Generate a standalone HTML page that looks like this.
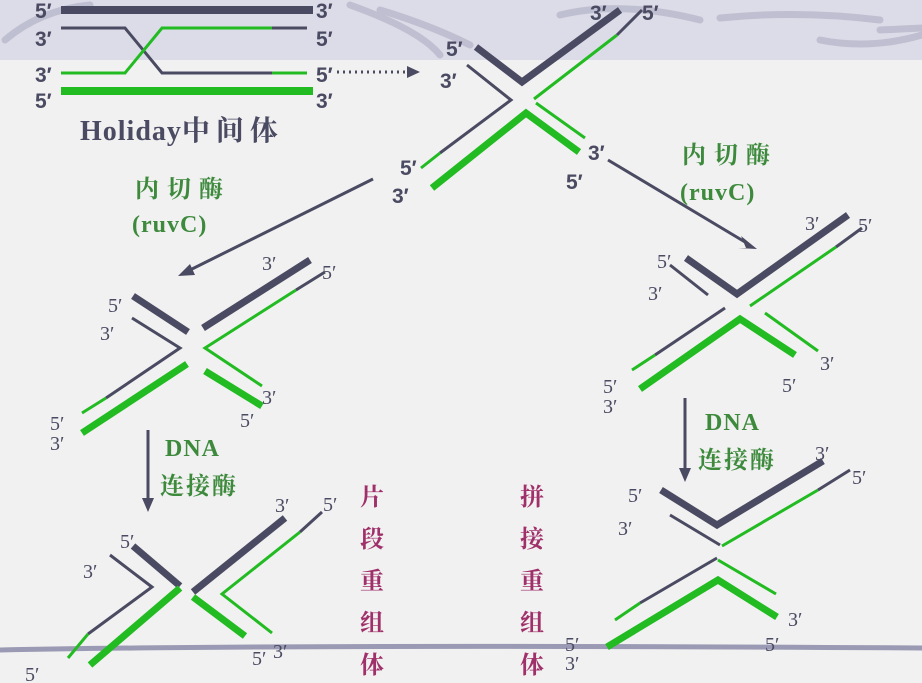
<!DOCTYPE html>
<html><head><meta charset="utf-8"><style>
html,body{margin:0;padding:0;width:922px;height:683px;overflow:hidden;background:#f1f1f1}
svg{display:block}
.l{font-family:"Liberation Sans",sans-serif;font-weight:bold;font-size:21px;fill:#4a4a62}
.s{font-family:"Liberation Serif",serif;font-size:20px;fill:#4a4a62}
.g{font-family:"Liberation Serif","Noto Serif CJK SC",serif;font-weight:bold;font-size:24px;fill:#3d8a3d}
.p{font-family:"Noto Serif CJK SC",serif;font-weight:bold;font-size:24px;fill:#a0306a}
</style></head><body>
<svg width="922" height="683" viewBox="0 0 922 683">
<rect x="0" y="0" width="922" height="60" fill="#dcdce8"/>
<g stroke="#b8b8cc" stroke-width="7" fill="none" stroke-linecap="round" opacity="0.8">
<path d="M5 40 Q40 10 90 5"/><path d="M350 5 Q420 30 440 55"/><path d="M380 10 Q430 25 470 45"/><path d="M560 15 Q620 0 700 20"/><path d="M720 18 Q800 10 880 20"/><path d="M820 40 Q870 50 922 35"/><path d="M880 30 L922 28"/>
</g>
<path d="M0 650 Q300 644 922 648" stroke="#9a9ab4" stroke-width="5" fill="none"/>
<g fill="none" stroke-linecap="butt">
<line x1="61" y1="10" x2="313" y2="10" stroke="#4a4a62" stroke-width="8"/>
<polyline points="61,28 125,28 162,73 272,73" stroke="#4a4a62" stroke-width="3"/>
<line x1="272" y1="73" x2="307" y2="73" stroke="#22bb22" stroke-width="3"/>
<polyline points="61,73 125,73 162,28 272,28" stroke="#22bb22" stroke-width="3"/>
<line x1="272" y1="28" x2="307" y2="28" stroke="#4a4a62" stroke-width="3"/>
<line x1="61" y1="91" x2="313" y2="91" stroke="#22bb22" stroke-width="8"/>
<polyline points="476,47 522,82 620,10" stroke="#4a4a62" stroke-width="7"/>
<polyline points="467,65 511,100 440,153" stroke="#4a4a62" stroke-width="3"/>
<line x1="440" y1="153" x2="421" y2="168" stroke="#22bb22" stroke-width="3"/>
<line x1="534" y1="99" x2="617" y2="35" stroke="#22bb22" stroke-width="3"/>
<line x1="617" y1="35" x2="642" y2="10" stroke="#4a4a62" stroke-width="3"/>
<polyline points="432,188 526,113 579,152" stroke="#22bb22" stroke-width="7"/>
<line x1="536" y1="103" x2="585" y2="138" stroke="#22bb22" stroke-width="3"/>
<line x1="133" y1="296" x2="188" y2="332" stroke="#4a4a62" stroke-width="7"/>
<polyline points="132,318 180,348 106,398" stroke="#4a4a62" stroke-width="3"/>
<line x1="106" y1="398" x2="82" y2="413" stroke="#22bb22" stroke-width="3"/>
<line x1="203" y1="328" x2="310" y2="260" stroke="#4a4a62" stroke-width="7"/>
<polyline points="262,386 205,348 296,290" stroke="#22bb22" stroke-width="3"/>
<line x1="296" y1="290" x2="325" y2="272" stroke="#4a4a62" stroke-width="3"/>
<line x1="187" y1="364" x2="82" y2="433" stroke="#22bb22" stroke-width="7"/>
<line x1="205" y1="371" x2="262" y2="406" stroke="#22bb22" stroke-width="7"/>
<polyline points="686,258 737,294 848,215" stroke="#4a4a62" stroke-width="7"/>
<line x1="670" y1="265" x2="708" y2="295" stroke="#4a4a62" stroke-width="3"/>
<line x1="750" y1="306" x2="836" y2="247" stroke="#22bb22" stroke-width="3"/>
<line x1="836" y1="247" x2="862" y2="228" stroke="#4a4a62" stroke-width="3"/>
<line x1="725" y1="308" x2="655" y2="355" stroke="#4a4a62" stroke-width="3"/>
<line x1="655" y1="355" x2="632" y2="370" stroke="#22bb22" stroke-width="3"/>
<polyline points="640,389 740,319 795,355" stroke="#22bb22" stroke-width="7"/>
<line x1="765" y1="313" x2="818" y2="351" stroke="#22bb22" stroke-width="3"/>
<line x1="133" y1="546" x2="180" y2="586" stroke="#4a4a62" stroke-width="7"/>
<polyline points="110,555 152,587 88,634" stroke="#4a4a62" stroke-width="3"/>
<line x1="88" y1="634" x2="68" y2="658" stroke="#22bb22" stroke-width="3"/>
<line x1="180" y1="588" x2="90" y2="665" stroke="#22bb22" stroke-width="7"/>
<line x1="193" y1="592" x2="285" y2="518" stroke="#4a4a62" stroke-width="7"/>
<polyline points="272,633 222,594 300,532" stroke="#22bb22" stroke-width="3"/>
<line x1="300" y1="532" x2="322" y2="512" stroke="#4a4a62" stroke-width="3"/>
<line x1="193" y1="597" x2="245" y2="636" stroke="#22bb22" stroke-width="7"/>
<polyline points="661,490 717,525 823,461" stroke="#4a4a62" stroke-width="7"/>
<line x1="670" y1="515" x2="720" y2="545" stroke="#4a4a62" stroke-width="3"/>
<line x1="722" y1="546" x2="818" y2="490" stroke="#22bb22" stroke-width="3"/>
<line x1="818" y1="490" x2="850" y2="470" stroke="#4a4a62" stroke-width="3"/>
<line x1="717" y1="558" x2="640" y2="603" stroke="#4a4a62" stroke-width="3"/>
<line x1="640" y1="603" x2="615" y2="620" stroke="#22bb22" stroke-width="3"/>
<polyline points="607,647 718,580 777,617" stroke="#22bb22" stroke-width="7"/>
<line x1="718" y1="560" x2="776" y2="594" stroke="#22bb22" stroke-width="3"/>
<line x1="337" y1="72" x2="408" y2="72" stroke="#4a4a62" stroke-width="3" stroke-dasharray="2 4"/>
<line x1="373" y1="179" x2="190" y2="270" stroke="#4a4a62" stroke-width="3"/>
<line x1="608" y1="160" x2="745" y2="242" stroke="#4a4a62" stroke-width="3"/>
<line x1="148" y1="430" x2="148" y2="500" stroke="#4a4a62" stroke-width="3"/>
<line x1="685" y1="398" x2="685" y2="470" stroke="#4a4a62" stroke-width="3"/>
</g>
<g fill="#4a4a62">
<polygon points="420,72 407,66 407,78"/>
<polygon points="178,276 190,264 195,275"/>
<polygon points="757,249 741,236 746,248 738,248"/>
<polygon points="148,512 142,498 154,498"/>
<polygon points="685,482 679,468 691,468"/>
</g>
<g class="l">
<text x="35" y="18">5′</text><text x="316" y="18">3′</text>
<text x="35" y="46">3′</text><text x="316" y="46">5′</text>
<text x="35" y="82">3′</text><text x="316" y="82">5′</text>
<text x="35" y="108">5′</text><text x="316" y="108">3′</text>
<text x="446" y="56">5′</text><text x="440" y="88">3′</text>
<text x="590" y="20">3′</text><text x="642" y="20">5′</text>
<text x="400" y="175">5′</text><text x="392" y="203">3′</text>
<text x="588" y="160">3′</text><text x="566" y="189">5′</text>
</g>
<g class="s">
<text x="262" y="270">3′</text><text x="322" y="279">5′</text>
<text x="108" y="312">5′</text><text x="100" y="340">3′</text>
<text x="262" y="404">3′</text><text x="240" y="427">5′</text>
<text x="50" y="430">5′</text><text x="50" y="450">3′</text>
<text x="805" y="230">3′</text><text x="858" y="232">5′</text>
<text x="657" y="268">5′</text><text x="648" y="300">3′</text>
<text x="820" y="370">3′</text><text x="782" y="392">5′</text>
<text x="603" y="393">5′</text><text x="603" y="413">3′</text>
<text x="275" y="512">3′</text><text x="323" y="511">5′</text>
<text x="120" y="548">5′</text><text x="83" y="578">3′</text>
<text x="252" y="665">5′</text><text x="273" y="658">3′</text>
<text x="25" y="681">5′</text>
<text x="815" y="460">3′</text><text x="852" y="484">5′</text>
<text x="628" y="502">5′</text><text x="618" y="535">3′</text>
<text x="788" y="626">3′</text><text x="765" y="651">5′</text>
<text x="565" y="651">5′</text><text x="565" y="670">3′</text>
</g>
<text x="80" y="140" font-family="Liberation Serif,'Noto Serif CJK SC',serif" font-weight="bold" font-size="28" letter-spacing="1" fill="#4a4a62">Holiday<tspan letter-spacing="6">中间体</tspan></text>
<g class="g">
<text x="135" y="197" letter-spacing="8">内切酶</text><text x="132" y="232" letter-spacing="1">(ruvC)</text>
<text x="682" y="163" letter-spacing="8">内切酶</text><text x="680" y="200" letter-spacing="1">(ruvC)</text>
<text x="165" y="456" letter-spacing="1">DNA</text><text x="160" y="494" letter-spacing="2">连接酶</text>
<text x="705" y="430" letter-spacing="1">DNA</text><text x="698" y="468" letter-spacing="2">连接酶</text>
</g>
<g class="p">
<text x="360" y="505">片</text><text x="360" y="547">段</text><text x="360" y="589">重</text><text x="360" y="631">组</text><text x="360" y="673">体</text>
<text x="520" y="505">拼</text><text x="520" y="547">接</text><text x="520" y="589">重</text><text x="520" y="631">组</text><text x="520" y="673">体</text>
</g>
</svg>
</body></html>
